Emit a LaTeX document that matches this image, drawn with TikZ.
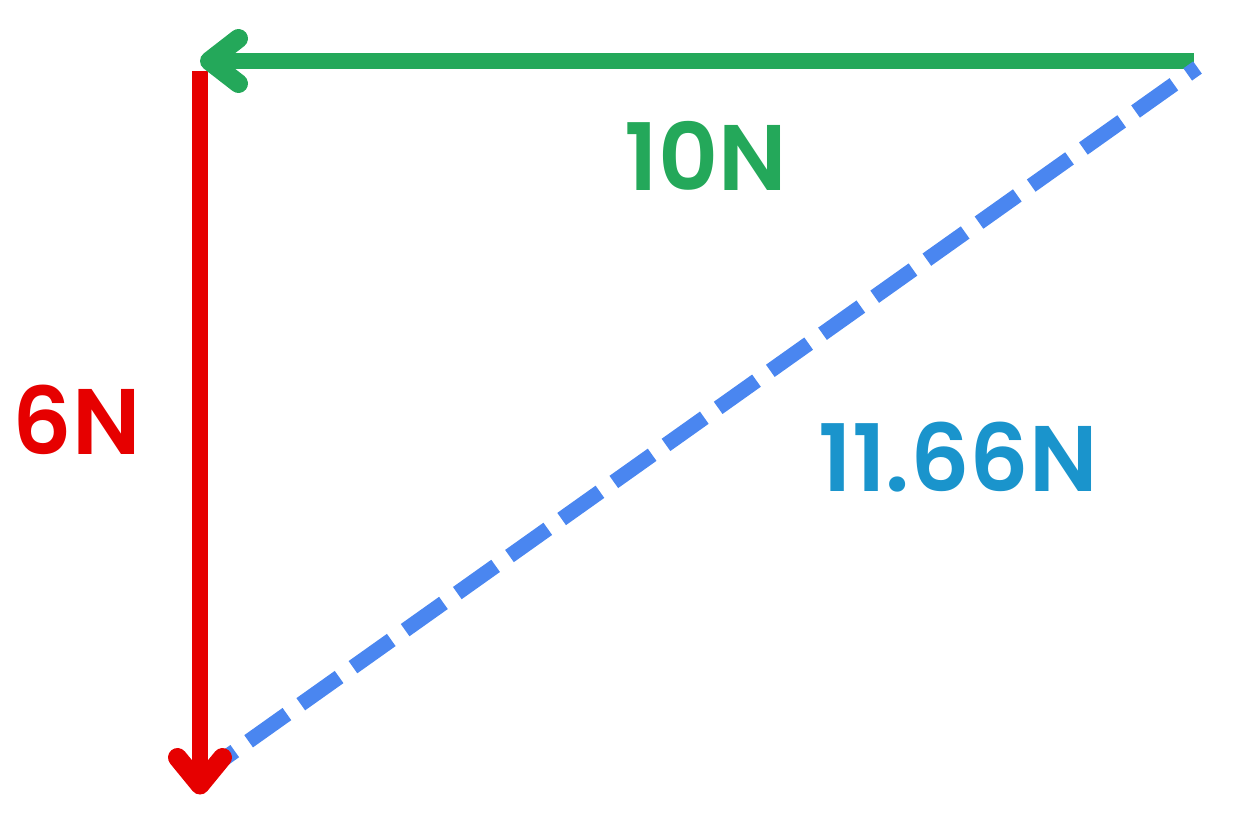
\documentclass[tikz,border=0pt]{standalone}
\usepackage{fontspec}
\setmainfont{Poppins}[BoldFont={* SemiBold}]
\usepackage{xcolor}
\usetikzlibrary{positioning}
\definecolor{forcegreen}{HTML}{24A85A}
\definecolor{forcered}{HTML}{E60000}
\definecolor{forceblue}{HTML}{4A86F0}
\definecolor{labelblue}{HTML}{1A94CC}
\begin{document}
\begin{tikzpicture}[x=0.02cm, y=-0.02cm, force line/.style={line width=0.32cm},
  head line/.style={line width=0.38cm,line cap=round,line join=round},
  force label/.style={font=\fontsize{53}{53}\selectfont\bfseries,inner sep=0pt}]
\useasboundingbox (0,0) rectangle (1252,819);
\coordinate (v1) at (1194,61);
\coordinate (v2) at (210,61);
\coordinate (v3) at (200,71);
\coordinate (v4) at (200,784);
\coordinate (v5) at (1197.5,67.5);
\coordinate (v6) at (218,763);
\coordinate (g1) at (238.5,38.5);
\coordinate (g2) at (209.5,61);
\coordinate (g3) at (238.5,83.5);
\coordinate (r1) at (177.5,757.5);
\coordinate (r2) at (200,785);
\coordinate (r3) at (222.5,757.5);
\begin{scope}
\draw[force line,forcegreen] (v1) -- (v2);
\draw[line width=0.3cm,forceblue,dash pattern=on 0.94cm off 0.34cm,dash phase=0.7cm] (v5) -- (v6);
\draw[force line,forcered] (v3) -- (v4);
\draw[head line,forcegreen] (g1) -- (g2) -- (g3);
\draw[head line,forcered] (r1) -- (r2) -- (r3);
\end{scope}
\node[force label,text=forcegreen] (l10) at (706,156) {10N};
\node[force label,text=forcered] (l6) at (77,420) {6N};
\node[force label,text=labelblue] (l11) at (958,457) {11.66N};
\end{tikzpicture}
\end{document}
